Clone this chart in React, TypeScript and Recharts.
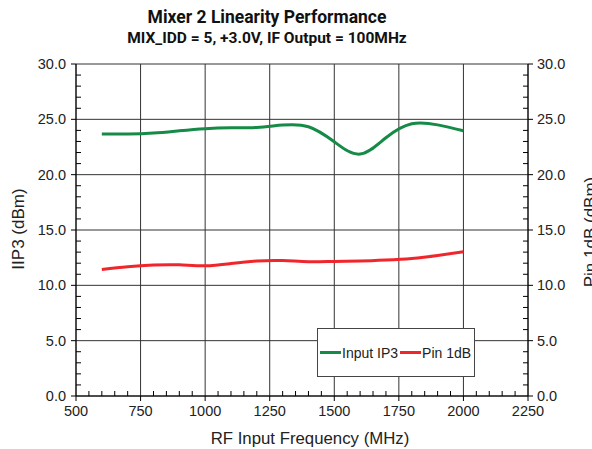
import { LineChart, Line, XAxis, YAxis, CartesianGrid } from 'recharts';

const FREQ_MHZ = [600, 700, 800, 900, 1000, 1100, 1200, 1300, 1400, 1500, 1600, 1700, 1800, 1900, 2000];
const INPUT_IP3 = [23.67, 23.67, 23.76, 23.97, 24.16, 24.23, 24.27, 24.48, 24.33, 22.97, 21.86, 23.34, 24.6, 24.5, 23.97];
const PIN_1DB = [11.44, 11.68, 11.83, 11.85, 11.77, 11.97, 12.2, 12.24, 12.13, 12.16, 12.19, 12.28, 12.43, 12.7, 13.04];

const X_MAJOR = [500, 750, 1000, 1250, 1500, 1750, 2000, 2250];
const Y_MAJOR = [0, 5, 10, 15, 20, 25, 30];
const X_ALL = Array.from({ length: 36 }, (_, i) => 500 + i * 50);
const Y_ALL = Array.from({ length: 31 }, (_, i) => i);

const SERIES = [
  { key: 'ip3', name: 'Input IP3', color: '#168a47', axis: 'left' },
  { key: 'p1db', name: 'Pin 1dB', color: '#f0262c', axis: 'right' },
];

const data = FREQ_MHZ.map((f, i) => ({ freq: f, ip3: INPUT_IP3[i], p1db: PIN_1DB[i] }));

const TICK_FONT = { fontFamily: '"Liberation Sans", Arial, sans-serif', fontSize: 14.5, fill: '#222' };

function XTick({ x, y, payload }: any) {
  const major = payload.value % 250 === 0;
  return (
    <g>
      <line x1={x} x2={x} y1={y} y2={major ? y + 5 : y - 5} stroke="#000" />
      {major && (
        <text x={x} y={y + 20} textAnchor="middle" {...TICK_FONT}>
          {payload.value}
        </text>
      )}
    </g>
  );
}

function LeftTick({ x, y, payload }: any) {
  const major = payload.value % 5 === 0;
  return (
    <g>
      <line x1={major ? x - 5 : x} x2={major ? x : x + 5} y1={y} y2={y} stroke="#000" />
      {major && (
        <text x={x - 10} y={y + 5} textAnchor="end" {...TICK_FONT}>
          {payload.value.toFixed(1)}
        </text>
      )}
    </g>
  );
}

function RightTick({ x, y, payload }: any) {
  const major = payload.value % 5 === 0;
  return (
    <g>
      <line x1={major ? x : x - 5} x2={major ? x + 5 : x} y1={y} y2={y} stroke="#000" />
      {major && (
        <text x={x + 9} y={y + 5} textAnchor="start" {...TICK_FONT}>
          {payload.value.toFixed(1)}
        </text>
      )}
    </g>
  );
}

const titleFont = '"Roboto", "Liberation Sans", sans-serif';
const labelFont = '"Liberation Sans", Arial, sans-serif';

export default function App() {
  return (
    <div style={{ position: 'absolute', left: 0, top: 0, width: 592, height: 449, background: '#fff', overflow: 'hidden' }}>
      <div
        style={{
          position: 'absolute',
          left: 0,
          width: 534,
          top: 7,
          textAlign: 'center',
          fontFamily: titleFont,
          fontWeight: 700,
          color: '#111',
          lineHeight: '21px',
        }}
      >
        <div style={{ fontSize: 17.5 }}>Mixer 2 Linearity Performance</div>
        <div style={{ fontSize: 15.5 }}>MIX_IDD = 5, +3.0V, IF Output = 100MHz</div>
      </div>

      <LineChart width={592} height={449} data={data} margin={{ top: 64, right: 0, bottom: 0, left: 0 }}>
        <CartesianGrid
          yAxisId="left"
          stroke="#333"
          horizontalValues={Y_MAJOR}
          verticalValues={X_MAJOR}
        />
        <XAxis
          dataKey="freq"
          type="number"
          domain={[500, 2250]}
          ticks={X_ALL}
          interval={0}
          height={53}
          tickSize={0}
          tickMargin={0}
          tickLine={false}
          axisLine={{ stroke: '#000' }}
          tick={<XTick />}
          label={{
            content: () => (
              <text x={310} y={444} textAnchor="middle" fontFamily={labelFont} fontSize={16.8} fill="#222">
                RF Input Frequency (MHz)
              </text>
            ),
          }}
        />
        <YAxis
          yAxisId="left"
          orientation="left"
          type="number"
          domain={[0, 30]}
          ticks={Y_ALL}
          interval={0}
          width={76}
          tickSize={0}
          tickMargin={0}
          tickLine={false}
          axisLine={{ stroke: '#000' }}
          tick={<LeftTick />}
          label={{
            content: () => (
              <text
                x={18}
                y={229}
                transform="rotate(-90 18 229)"
                textAnchor="middle"
                dominantBaseline="central"
                fontFamily={labelFont}
                fontSize={17}
                fill="#222"
              >
                IIP3 (dBm)
              </text>
            ),
          }}
        />
        <YAxis
          yAxisId="right"
          orientation="right"
          type="number"
          domain={[0, 30]}
          ticks={Y_ALL}
          interval={0}
          width={64}
          tickSize={0}
          tickMargin={0}
          tickLine={false}
          axisLine={{ stroke: '#000' }}
          tick={<RightTick />}
          label={{
            content: () => (
              <text
                x={590}
                y={232}
                transform="rotate(-90 590 232)"
                textAnchor="middle"
                dominantBaseline="central"
                fontFamily={labelFont}
                fontSize={17}
                fill="#222"
              >
                Pin 1dB (dBm)
              </text>
            ),
          }}
        />
        {SERIES.map((s) => (
          <Line
            key={s.key}
            yAxisId={s.axis}
            dataKey={s.key}
            name={s.name}
            type="natural"
            stroke={s.color}
            strokeWidth={3}
            dot={false}
            isAnimationActive={false}
          />
        ))}
      </LineChart>

      <div
        style={{
          position: 'absolute',
          left: 317,
          top: 328,
          width: 154,
          height: 47,
          border: '1px solid #444',
          background: '#fff',
          display: 'flex',
          alignItems: 'center',
          paddingLeft: 2,
          boxSizing: 'content-box',
          fontFamily: labelFont,
          fontSize: 14,
          color: '#222',
          whiteSpace: 'nowrap',
        }}
      >
        {SERIES.map((s) => (
          <span key={s.key} style={{ display: 'flex', alignItems: 'center' }}>
            <span style={{ display: 'inline-block', width: 21, height: 3, background: s.color, marginRight: 1 }} />
            <span style={{ marginRight: 2 }}>{s.name}</span>
          </span>
        ))}
      </div>
    </div>
  );
}
